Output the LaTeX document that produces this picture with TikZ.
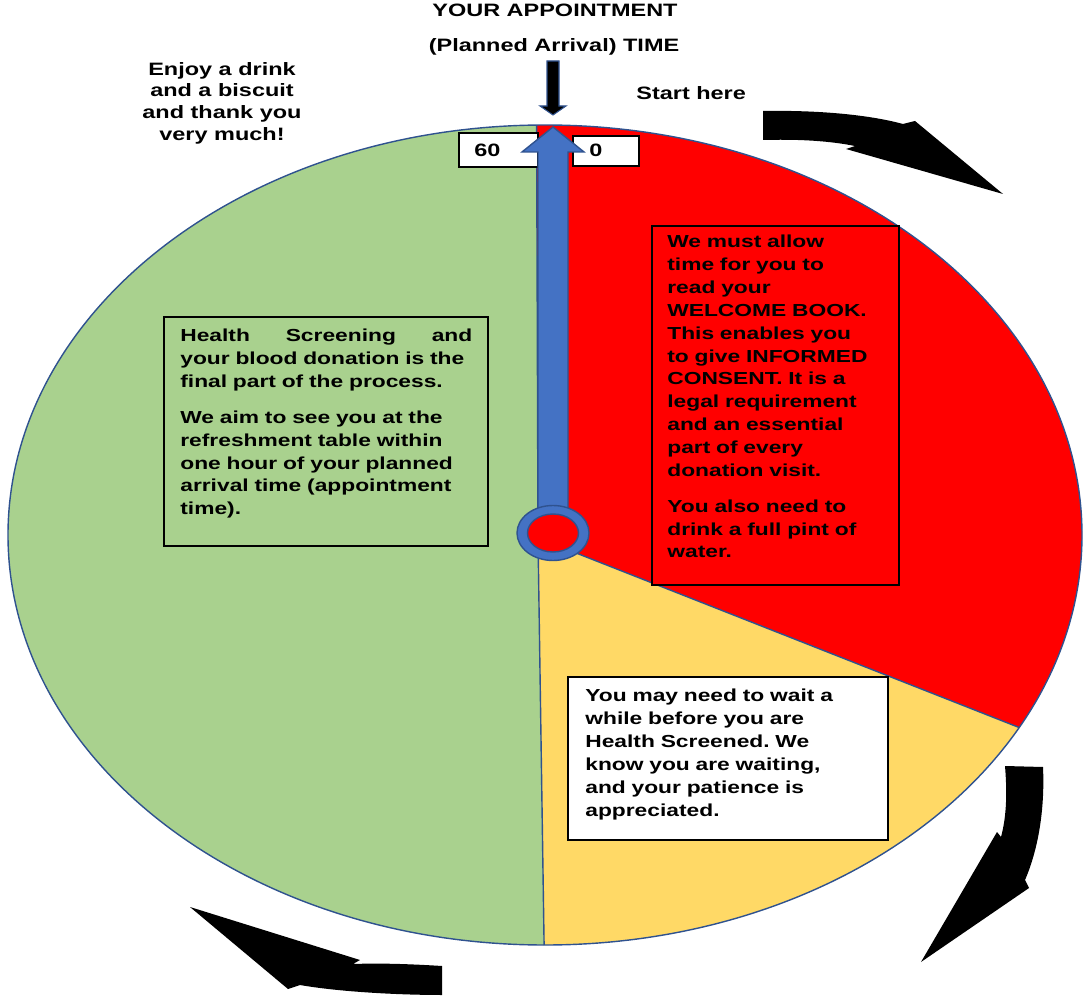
\documentclass[tikz,border=0pt]{standalone}
\usepackage{fontspec}
\setmainfont{Liberation Sans}[FakeStretch=1.31]
\usepackage{tikz}

\definecolor{clockred}{HTML}{FF0000}
\definecolor{clockgreen}{HTML}{A9D18E}
\definecolor{clockyellow}{HTML}{FFD966}
\definecolor{handblue}{HTML}{4472C4}
\definecolor{rimblue}{HTML}{2F528F}

\tikzset{
  rim/.style={draw=rimblue, line width=0.8pt},
  panel/.style={draw=black, line width=0.6pt},
  paneltext/.style={anchor=north west, inner sep=0pt, align=left, text width=#1,
    font=\frenchspacing\bfseries\fontsize{9.9}{13}\selectfont},
  paneltext/.default=5.5cm,
  caption/.style={inner sep=0pt, font=\bfseries\fontsize{10.2}{12.3}\selectfont},
  sweep/.style={fill=black},
}

\begin{document}
\begin{tikzpicture}[x=0.02cm, y=-0.02cm]
	\useasboundingbox (0,0) rectangle (1086,1000);

	\coordinate (hub) at (538,538);
	\coordinate (noon) at (536.6,125.1);
	\coordinate (turn) at (1019.1,727.5);
	\coordinate (six) at (544.1,945);

	\fill[clockred] (hub) -- (noon) arc[start angle=-90.9, end angle=28, x radius=537, y radius=410] -- cycle;
	\fill[clockyellow] (hub) -- (turn) arc[start angle=28, end angle=90.1, x radius=537, y radius=410] -- cycle;
	\fill[clockgreen] (hub) -- (six) arc[start angle=90.1, end angle=269.1, x radius=537, y radius=410] -- cycle;
	\draw[rim] (545,535) ellipse[x radius=537, y radius=410];
	\draw[rim] (noon) -- (hub) -- (turn) (hub) -- (six);

	\draw[panel, fill=clockred] (652,226) rectangle (899,585);
	\draw[panel, fill=clockgreen] (164,317) rectangle (488,546);
	\draw[panel, fill=white] (568,677) rectangle (888,840);

	\node (consent) [paneltext] at (667,235) {We must allow\\ time for you to\\ read your\\ WELCOME BOOK.\\ This enables you\\ to give INFORMED\\ CONSENT. It is a\\ legal requirement\\ and an essential\\ part of every\\ donation visit.\\[7.4pt] You also need to\\ drink a full pint of\\ water.};
	\node (screening) [paneltext=6.6cm] at (180,329) {\hbox to 5.84cm{Health\hfill Screening\hfill and}\\ your blood donation is the\\ final part of the process.\\[7.4pt] We aim to see you at the\\ refreshment table within\\ one hour of your planned\\ arrival time (appointment\\ time).};
	\node (waiting) [paneltext] at (585,689) {You may need to wait a\\ while before you are\\ Health Screened. We\\ know you are waiting,\\ and your patience is\\ appreciated.};

	% minute labels
	\draw[panel, fill=white] (459,133) rectangle (538,167);
	\draw[panel, fill=white] (573,136) rectangle (639,166);
	\node (sixty) [caption, anchor=base west] at (474,157) {60};
	\node (zero) [caption, anchor=base west] at (589,157) {0};

	% clock hand
	\filldraw[fill=handblue, draw=rimblue, line width=0.8pt] (538,513) -- (538,152) -- (522,152) -- (553,127) -- (584,152) -- (568,152) -- (568,513) -- cycle;
	\filldraw[fill=handblue, draw=rimblue, line width=0.8pt] (553,533) ellipse[x radius=36, y radius=27.5];
	\filldraw[fill=clockred, draw=rimblue, line width=0.8pt] (553,533) ellipse[x radius=25.5, y radius=19];

	\filldraw[fill=black, draw=rimblue, line width=0.6pt] (547,61) -- (559,61) -- (559,106) -- (566,106) -- (553,115) -- (540,106) -- (547,106) -- cycle;

	% turning arrows
	\fill[sweep] (763,111) .. controls (820,110) and (870,115) .. (903,124) -- (915,121) -- (1003,194) -- (846,149) -- (855,146) .. controls (830,141) and (800,139) .. (763,140) -- cycle;
	\fill[sweep] (1005,766) -- (1043,767) .. controls (1045,810) and (1038,850) .. (1025,880) -- (1029,888) -- (921,962) -- (997,832) -- (1001,837) .. controls (1007,815) and (1007,790) .. (1005,766) -- cycle;
	\fill[sweep] (442,966) .. controls (410,964) and (380,963) .. (353,964) -- (360,960) -- (190,907) -- (288,989) -- (300,985) .. controls (340,992) and (400,995) .. (442,995) -- cycle;

	\node (appointment) [caption, anchor=base] at (555,17) {YOUR APPOINTMENT};
	\node (arrival) [caption, anchor=base] at (554,52) {(Planned Arrival) TIME};
	\node (start) [caption, anchor=base west] at (636,100) {Start here};
	\node (thanks) [caption, anchor=north, align=center] at (222,62) {Enjoy a drink\\ and a biscuit\\ and thank you\\ very much!};
\end{tikzpicture}
\end{document}
